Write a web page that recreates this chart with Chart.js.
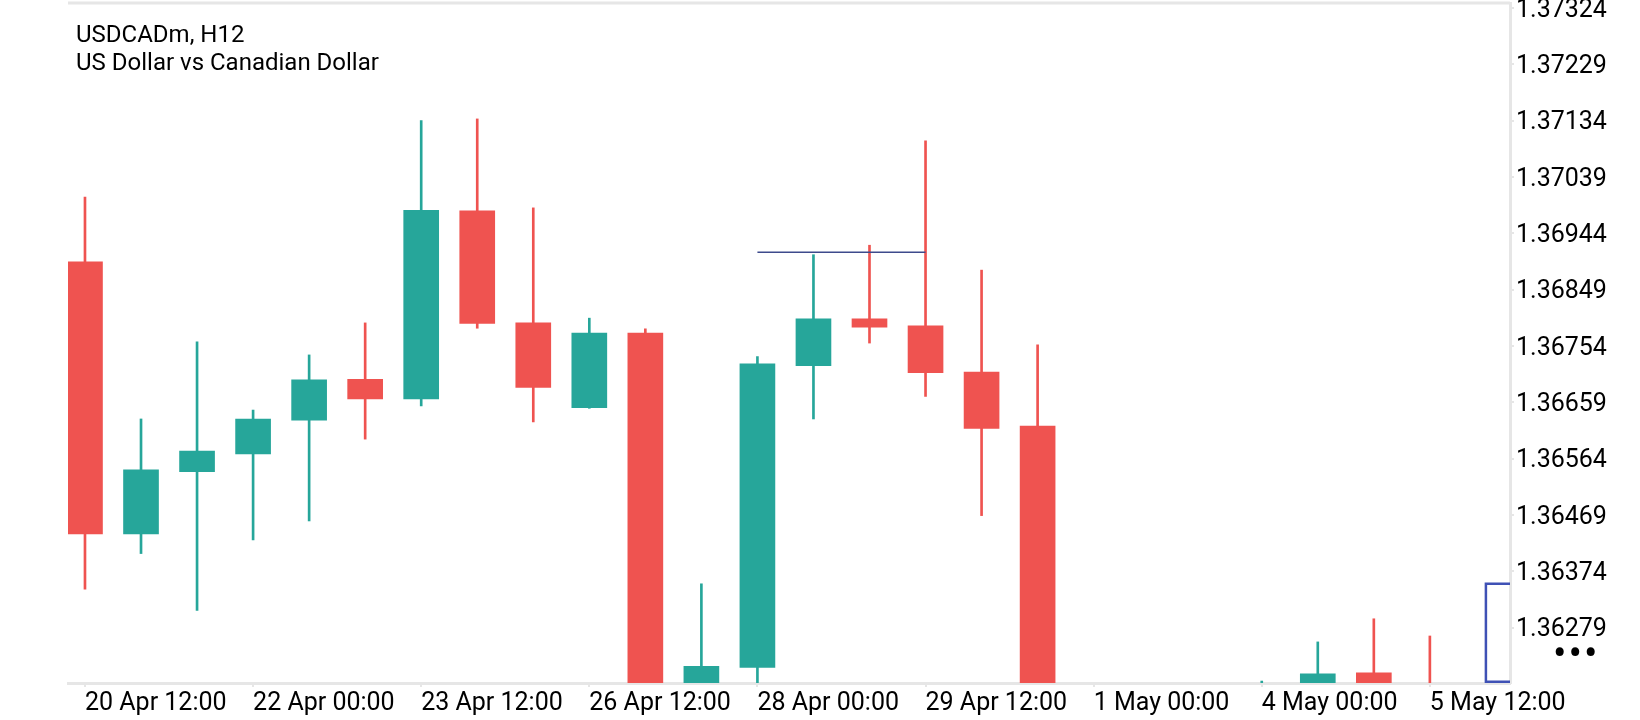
<!DOCTYPE html>
<html>
<head>
<meta charset="utf-8">
<script src="https://cdn.jsdelivr.net/npm/chart.js@4.4.1/dist/chart.umd.min.js"></script>
<style>
  html, body { margin: 0; padding: 0; background: #fff; }
  #wrap { position: relative; width: 1640px; height: 720px; }
  #title { position: absolute; left: 76px; top: 21px; font: 24px Roboto, sans-serif; line-height: 27.6px; color: #000; }
  #dots { position: absolute; left: 1553px; top: 631px; font: 40px Roboto, sans-serif; line-height: 46px; letter-spacing: 2px; color: #000; }
</style>
</head>
<body>
<div id="wrap">
  <canvas id="chart"></canvas>
  <div id="title">USDCADm, H12<br>US Dollar vs Canadian Dollar</div>
  <div id="dots">•••</div>
</div>
<script>
// H12 candles (last few sit under the visible range)
const opens  = [1.36896, 1.36437, 1.36542, 1.36572, 1.36629, 1.36698, 1.36665, 1.36982, 1.36793, 1.36650,
                1.36776, 1.36152, 1.36212, 1.36721, 1.36800, 1.36788, 1.36710, 1.36619, 1.36130, 1.36060,
                1.36110, 1.36140, 1.36170, 1.36203, 1.36170];
const highs  = [1.37005, 1.36631, 1.36761, 1.36646, 1.36739, 1.36793, 1.37134, 1.37137, 1.36987, 1.36801,
                1.36783, 1.36353, 1.36736, 1.36908, 1.36924, 1.37100, 1.36882, 1.36756, 1.36170, 1.36140,
                1.36180, 1.36189, 1.36255, 1.36294, 1.36265];
const lows   = [1.36344, 1.36404, 1.36308, 1.36427, 1.36459, 1.36597, 1.36653, 1.36784, 1.36626, 1.36649,
                1.36120, 1.36110, 1.36140, 1.36631, 1.36759, 1.36669, 1.36468, 1.36090, 1.36020, 1.35980,
                1.36050, 1.36090, 1.36120, 1.36130, 1.36110];
const closes = [1.36437, 1.36545, 1.36577, 1.36631, 1.36697, 1.36665, 1.36983, 1.36792, 1.36684, 1.36776,
                1.36150, 1.36214, 1.36724, 1.36800, 1.36786, 1.36709, 1.36615, 1.36130, 1.36060, 1.36110,
                1.36140, 1.36170, 1.36201, 1.36170, 1.36140];

const xTickIdx    = [0, 3, 6, 9, 12, 15, 18, 21, 24];
const xTickLabels = ['20 Apr 12:00', '22 Apr 00:00', '23 Apr 12:00', '26 Apr 12:00', '28 Apr 00:00',
                     '29 Apr 12:00', '1 May 00:00', '4 May 00:00', '5 May 12:00'];
const yTickLabels = ['1.36279', '1.36374', '1.36469', '1.36564', '1.36659', '1.36754',
                     '1.36849', '1.36944', '1.37039', '1.37134', '1.37229', '1.37324'];

// drawn objects: horizontal level and the box at the right edge
const levelLine = [{x: 12, y: 1.36912}, {x: 15, y: 1.36912}];
const boxLine   = [{x: 26, y: 1.36188}, {x: 25, y: 1.36188}, {x: 25, y: 1.36353}, {x: 26, y: 1.36353}];

const UP = '#26a69a', DOWN = '#ef5350';
const colors = opens.map((o, i) => closes[i] >= o ? UP : DOWN);
const wicks  = lows.map((l, i) => ({x: i, y: [l, highs[i]]}));
const bodies = opens.map((o, i) => ({x: i, y: [Math.min(o, closes[i]), Math.max(o, closes[i])]}));

// top frame line
const frame = {
  id: 'frame',
  afterDraw(chart) {
    const a = chart.chartArea, c = chart.ctx;
    c.save();
    c.strokeStyle = '#e6e6e6';
    c.lineWidth = 3;
    c.beginPath();
    c.moveTo(a.left, a.top);
    c.lineTo(a.right, a.top);
    c.stroke();
    c.restore();
  }
};

new Chart(document.getElementById('chart'), {
  type: 'bar',
  data: {
    datasets: [
      { type: 'line', data: levelLine, borderColor: '#3d4a8c', borderWidth: 1.5, pointRadius: 0, order: 0 },
      { type: 'line', data: boxLine, borderColor: '#3f51b5', borderWidth: 2.5, pointRadius: 0, order: 0 },
      { data: wicks, backgroundColor: colors, barThickness: 2, grouped: false, order: 2 },
      { data: bodies, backgroundColor: colors, barThickness: 35, grouped: false, order: 1 }
    ]
  },
  options: {
    responsive: true,
    maintainAspectRatio: false,
    animation: false,
    layout: { padding: { left: 68, top: 3, right: 0, bottom: 0 } },
    plugins: { legend: { display: false }, tooltip: { enabled: false } },
    scales: {
      x: {
        type: 'linear',
        offset: false,
        min: -0.303,
        max: 25.43,
        afterBuildTicks(scale) { scale.ticks = xTickIdx.map(v => ({value: v})); },
        afterFit(scale) { scale.height = 37; scale.paddingLeft = 0; scale.paddingRight = 0; },
        ticks: {
          align: 'start', autoSkip: false, maxRotation: 0, padding: 2,
          color: '#000', font: {family: 'Roboto', size: 25},
          callback: v => xTickLabels[xTickIdx.indexOf(v)]
        },
        grid: { offset: false, drawOnChartArea: false, tickLength: 4, color: '#e6e6e6', lineWidth: 2 },
        border: { color: '#e6e6e6', width: 3 }
      },
      y: {
        position: 'right',
        min: 1.361857,
        max: 1.373325,
        afterBuildTicks(scale) { scale.ticks = yTickLabels.map(t => ({value: parseFloat(t)})); },
        afterFit(scale) { scale.width = 130; scale.paddingTop = 0; scale.paddingBottom = 0; },
        ticks: {
          padding: 2, color: '#000',
          // small line height + empty first line nudges the digits onto the tick
          font: {family: 'Roboto', size: 25, lineHeight: 0.2},
          callback: v => ['', yTickLabels.find(t => Math.abs(parseFloat(t) - v) < 1e-7)]
        },
        grid: { drawOnChartArea: false, tickLength: 4, color: '#e6e6e6', lineWidth: 2 },
        border: { color: '#e6e6e6', width: 3 }
      }
    }
  },
  plugins: [frame]
});
</script>
</body>
</html>
